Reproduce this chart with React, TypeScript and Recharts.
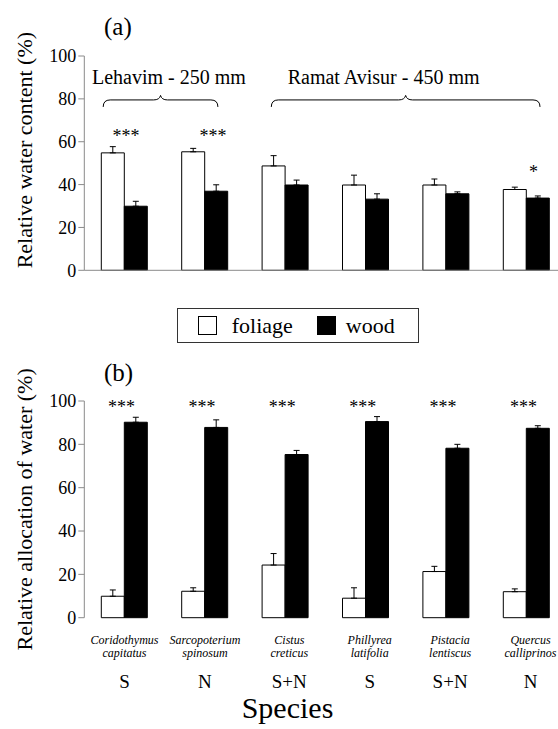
import React from 'react';
import {
  ComposedChart, Bar, XAxis, YAxis, ErrorBar, Legend, ReferenceLine, ReferenceDot
} from 'recharts';

const SERIF = "'Liberation Serif', Tinos, 'Times New Roman', Times, serif";
const AXIS = '#8a8a8a';

// species shown on the x axis
const genus = ['Coridothymus', 'Sarcopoterium', 'Cistus', 'Phillyrea', 'Pistacia', 'Quercus'];
const epithet = ['capitatus', 'spinosum', 'creticus', 'latifolia', 'lentiscus', 'calliprinos'];
const origin = ['S', 'N', 'S+N', 'S', 'S+N', 'N'];
const species = genus.map((g, i) => `${g} ${epithet[i]}`);

// (a) relative water content (%)
const rwcFoliage = [54.8, 55.3, 48.7, 39.8, 39.8, 37.7];
const rwcFoliageSE = [2.9, 1.6, 4.8, 4.6, 2.8, 1.1];
const rwcWood = [29.9, 36.9, 39.8, 33.2, 35.7, 33.7];
const rwcWoodSE = [2.3, 3.0, 2.3, 2.5, 0.9, 1.0];
const rwcSig = ['***', '***', '', '', '', '*'];
const rwcSigLevel = [62.7, 62.7, 0, 0, 0, 45.9];

// (b) relative allocation of water (%)
const allocFoliage = [9.9, 12.2, 24.3, 9.0, 21.3, 12.0];
const allocFoliageSE = [2.9, 1.6, 5.3, 4.8, 2.4, 1.3];
const allocWood = [90.2, 87.8, 75.3, 90.5, 78.2, 87.4];
const allocWoodSE = [2.3, 3.5, 1.9, 2.3, 1.8, 1.2];
const allocSig = ['***', '***', '***', '***', '***', '***'];
const allocSigLevel = [97.2, 97.2, 97.2, 97.2, 97.2, 97.2];

// rainfall groups over panel (a)
const sites = ['Lehavim - 250 mm', 'Ramat Avisur - 450 mm'];
const siteFirst = [0, 2];
const siteLast = [1, 5];
const siteLevel = 79.5;

const yTicks = [0, 20, 40, 60, 80, 100];
const edgeTicks = [0, 1, 2, 3, 4, 5, 6];

const rwcData = species.map((name, i) => ({
  name,
  foliage: rwcFoliage[i],
  wood: rwcWood[i],
  foliageErr: [0, rwcFoliageSE[i]],
  woodErr: [0, rwcWoodSE[i]],
}));

const allocData = species.map((name, i) => ({
  name,
  foliage: allocFoliage[i],
  wood: allocWood[i],
  foliageErr: [0, allocFoliageSE[i]],
  woodErr: [0, allocWoodSE[i]],
}));

const braceShape = (text: string, padL: number, padR: number, textDx: number) => (p: any) => {
  const xa = Math.min(p.x1, p.x2) - padL;
  const xb = Math.max(p.x1, p.x2) + padR;
  const y = p.y1;
  const xm = (xa + xb) / 2;
  const d = `M${xa},${y + 7} Q${xa},${y} ${xa + 7},${y} L${xm - 7},${y} Q${xm - 1},${y} ${xm},${y - 4.5} Q${xm + 1},${y} ${xm + 7},${y} L${xb - 7},${y} Q${xb},${y} ${xb},${y + 7}`;
  return (
    <g>
      <path d={d} fill="none" stroke="#000" strokeWidth={1} />
      <text x={xm + textDx} y={y - 16} textAnchor="middle" fontSize={20} style={{ fontFamily: SERIF }} fill="#000">
        {text}
      </text>
    </g>
  );
};

const renderLegend = (props: any) => {
  const items = props.payload || [];
  return (
    <div style={{
      boxSizing: 'border-box', width: 242, height: 35, border: '1.5px solid #333',
      display: 'flex', alignItems: 'center', paddingLeft: 20, fontFamily: SERIF, fontSize: 22, color: '#000',
    }}>
      {items.map((it: any, i: number) => (
        <div key={it.value} style={{ display: 'flex', alignItems: 'center', marginRight: i === 0 ? 24 : 0 }}>
          <span style={{
            display: 'inline-block', boxSizing: 'border-box', width: 19, height: 19,
            background: it.color, border: '1.2px solid #000', marginRight: i === 0 ? 15 : 10,
          }} />
          <span>{it.value}</span>
        </div>
      ))}
    </div>
  );
};

const SpeciesTick = (props: any) => {
  const { x, y, index } = props;
  const dx = index > 1 ? 4 : 0;
  return (
    <g transform={`translate(${x + dx},${y})`} fill="#000" style={{ fontFamily: SERIF }}>
      <text y={26.3} textAnchor="middle" fontStyle="italic" fontSize={12}>{genus[index]}</text>
      <text y={39.6} textAnchor="middle" fontStyle="italic" fontSize={12}>{epithet[index]}</text>
      <text y={70.3} textAnchor="middle" fontSize={19}>{origin[index]}</text>
    </g>
  );
};

const panelLetter = (top: number): React.CSSProperties => ({
  position: 'absolute', left: 104, top, fontFamily: SERIF, fontSize: 25, lineHeight: '25px', color: '#000',
});

const yAxisProps = {
  domain: [0, 100] as [number, number],
  ticks: yTicks,
  width: 84.3,
  tickSize: 6,
  stroke: AXIS,
  interval: 0 as const,
  tick: { fill: '#000', fontSize: 18 },
};

export default function App() {
  return (
    <div style={{
      position: 'fixed', left: 0, top: 0, width: 558, height: 729, overflow: 'hidden',
      background: '#fff', fontFamily: SERIF,
    }}>
      <div style={panelLetter(14)}>(a)</div>
      <div style={panelLetter(360)}>(b)</div>

      <div style={{ position: 'absolute', left: 0, top: 0 }}>
        <ComposedChart
          width={600}
          height={345}
          data={rwcData}
          margin={{ top: 56, right: 33.3, bottom: 1.7, left: 0 }}
          barCategoryGap={17}
          barGap={0}
          style={{ fontFamily: SERIF }}
        >
          <XAxis xAxisId="edge" type="number" domain={[0, 6]} ticks={edgeTicks} allowDataOverflow
            tick={false} tickSize={6} interval={0} stroke={AXIS} height={38} />
          <XAxis xAxisId="cat" dataKey="name" hide height={0} />
          <YAxis {...yAxisProps}
            label={{ value: 'Relative water content (%)', angle: -90, position: 'center', dx: -18, dy: -13, fill: '#000', fontSize: 22 }} />
          <Bar xAxisId="cat" dataKey="foliage" name="foliage" fill="#fff" stroke="#000" strokeWidth={1} isAnimationActive={false}>
            <ErrorBar dataKey="foliageErr" width={3} stroke="#000" strokeWidth={1} direction="y" isAnimationActive={false} />
          </Bar>
          <Bar xAxisId="cat" dataKey="wood" name="wood" fill="#000" stroke="#000" strokeWidth={1} isAnimationActive={false}>
            <ErrorBar dataKey="woodErr" width={3} stroke="#000" strokeWidth={1} direction="y" isAnimationActive={false} />
          </Bar>
          {sites.map((s, i) => (
            <ReferenceLine key={s} xAxisId="cat"
              segment={[{ x: species[siteFirst[i]], y: siteLevel }, { x: species[siteLast[i]], y: siteLevel }]}
              shape={i === 0 ? braceShape(s, 21.3, 13, 8.4) : braceShape(s, 14, 13.5, -22)} />
          ))}
          {rwcSig.map((s, i) => s ? (
            <ReferenceDot key={i} xAxisId="cat" x={species[i]} y={rwcSigLevel[i]} r={0} fill="none" stroke="none"
              label={{ value: s, position: 'center', fill: '#000', fontSize: 18, dx: i === 1 ? 8 : i === 5 ? 7 : 1.5 }} />
          ) : null)}
          <Legend content={renderLegend} verticalAlign="bottom" wrapperStyle={{ left: 176.7, bottom: 1.7, width: 242 }} />
        </ComposedChart>
      </div>

      <div style={{ position: 'absolute', left: 0, top: 345 }}>
        <ComposedChart
          width={600}
          height={384}
          data={allocData}
          margin={{ top: 56, right: 33.3, bottom: 0, left: 0 }}
          barCategoryGap={17}
          barGap={0}
          style={{ fontFamily: SERIF }}
        >
          <XAxis xAxisId="edge" type="number" domain={[0, 6]} ticks={edgeTicks} allowDataOverflow
            tick={false} tickSize={6} interval={0} stroke={AXIS} height={0} />
          <XAxis xAxisId="cat" dataKey="name" interval={0} axisLine={false} tickLine={false}
            tickSize={0} tickMargin={0} height={111.3} tick={<SpeciesTick />}
            label={{ value: 'Species', position: 'insideBottom', offset: 11, dx: -38, fill: '#000', fontSize: 30 }} />
          <YAxis {...yAxisProps}
            label={{ value: 'Relative allocation of water (%)', angle: -90, position: 'center', dx: -18, dy: 0, fill: '#000', fontSize: 22 }} />
          <Bar xAxisId="cat" dataKey="foliage" name="foliage" fill="#fff" stroke="#000" strokeWidth={1} isAnimationActive={false}>
            <ErrorBar dataKey="foliageErr" width={3} stroke="#000" strokeWidth={1} direction="y" isAnimationActive={false} />
          </Bar>
          <Bar xAxisId="cat" dataKey="wood" name="wood" fill="#000" stroke="#000" strokeWidth={1} isAnimationActive={false}>
            <ErrorBar dataKey="woodErr" width={3} stroke="#000" strokeWidth={1} direction="y" isAnimationActive={false} />
          </Bar>
          {allocSig.map((s, i) => (
            <ReferenceDot key={i} xAxisId="cat" x={species[i]} y={allocSigLevel[i]} r={0} fill="none" stroke="none"
              label={{ value: s, position: 'center', fill: '#000', fontSize: 18, dx: -3 }} />
          ))}
        </ComposedChart>
      </div>
    </div>
  );
}
